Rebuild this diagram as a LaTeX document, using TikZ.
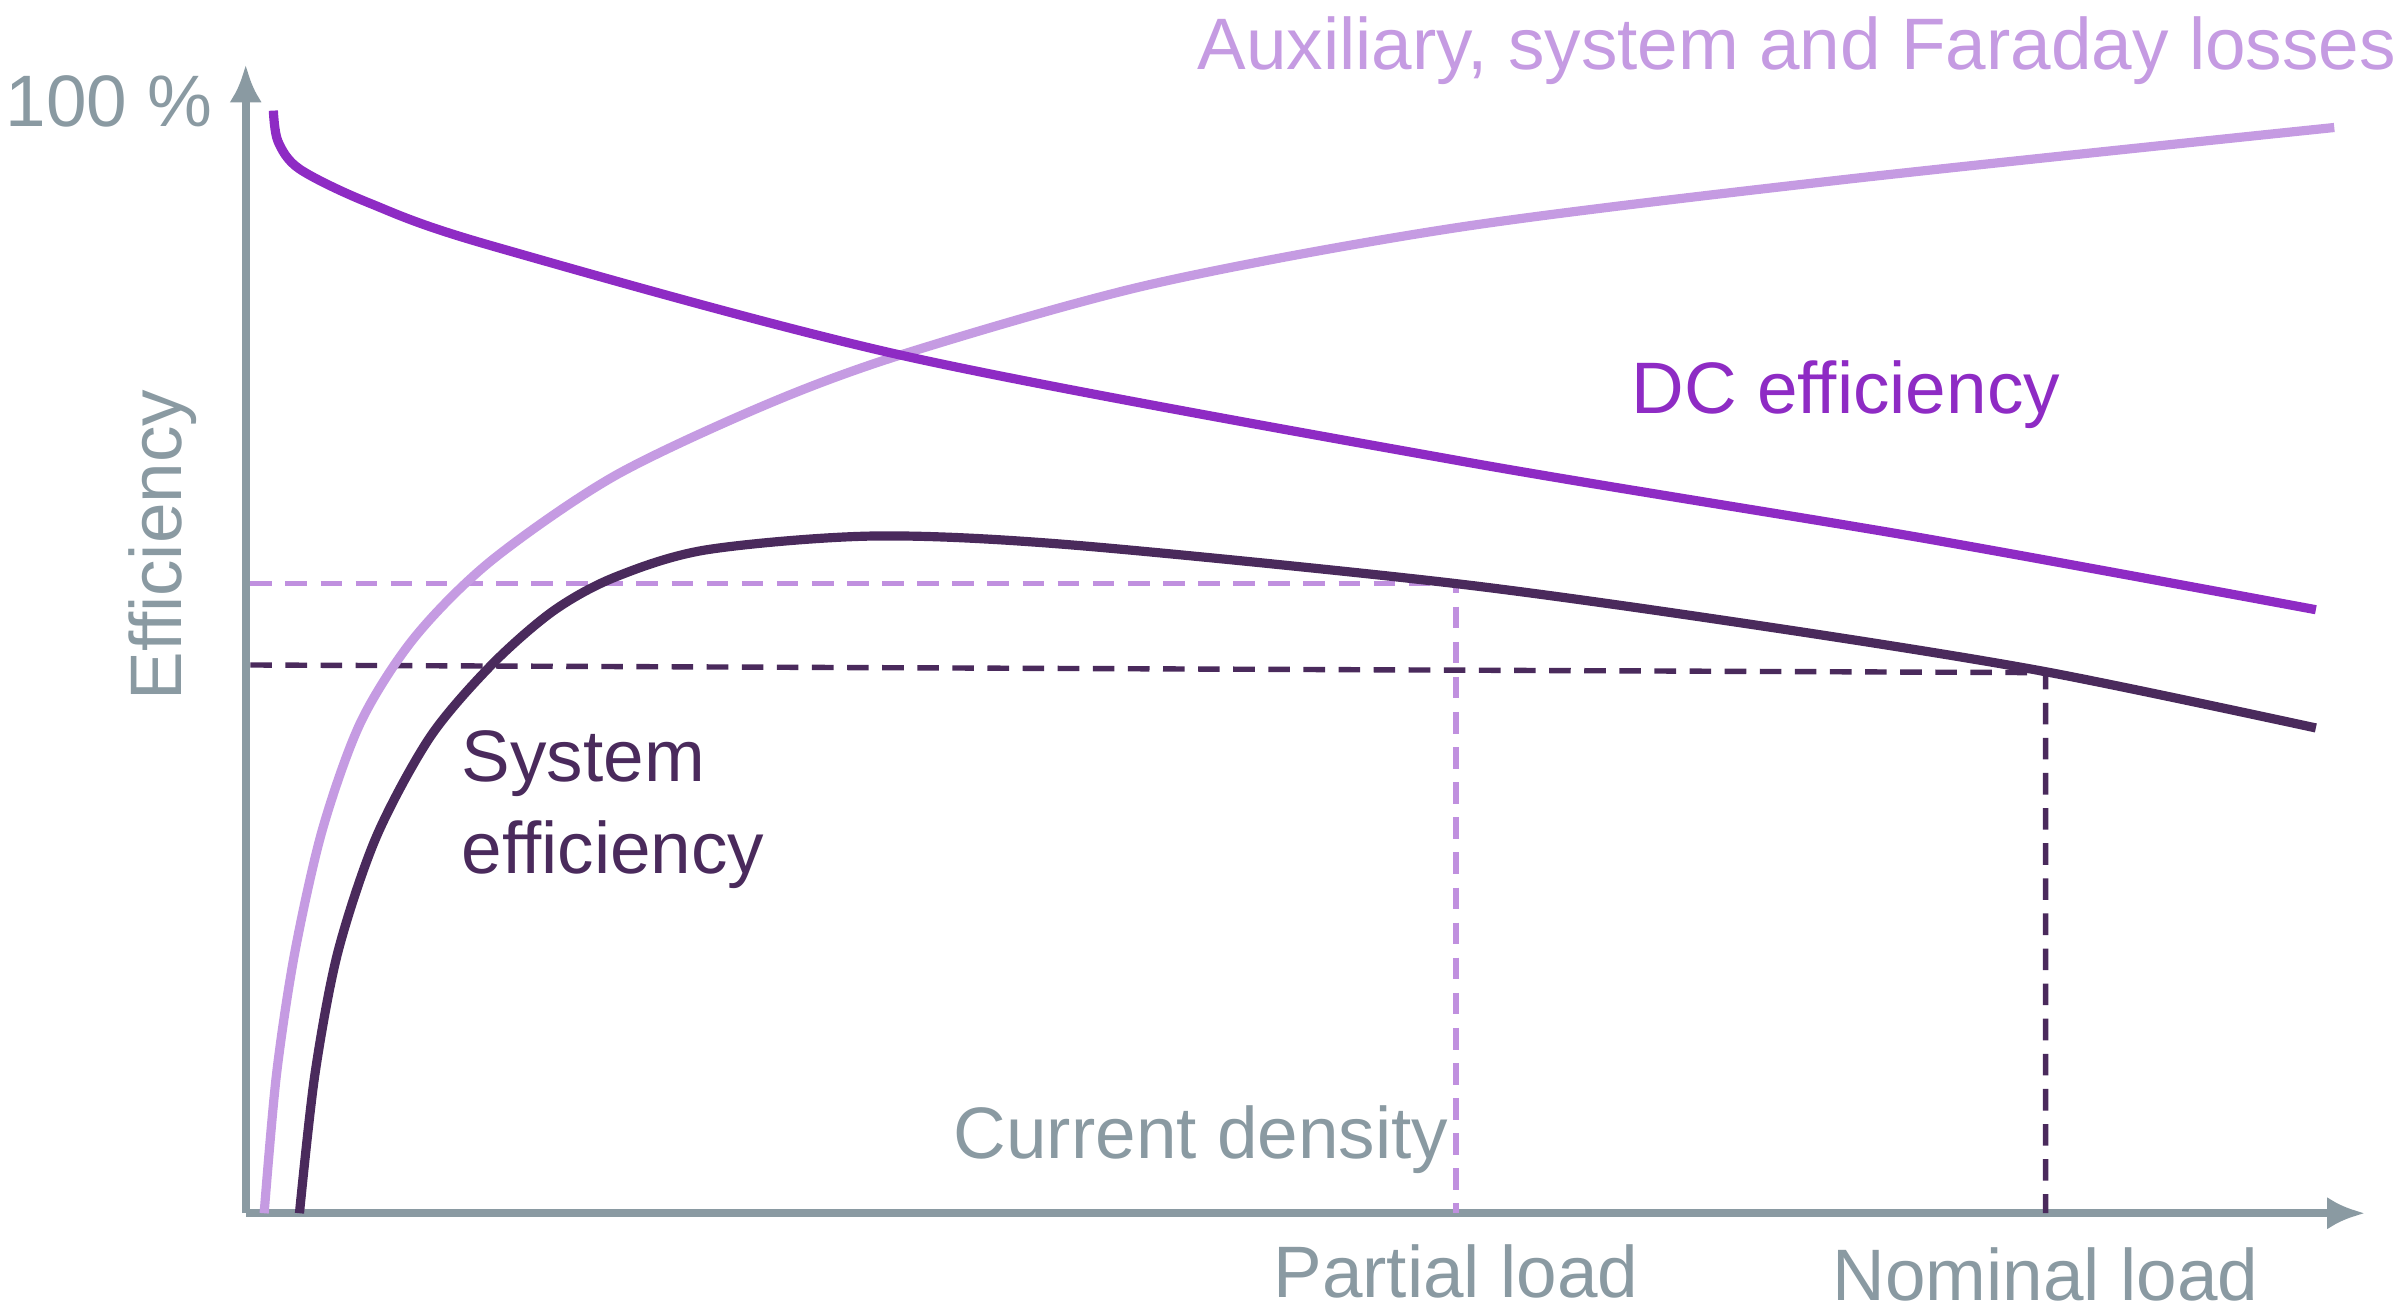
\documentclass[tikz,border=0pt]{standalone}
\usepackage{fontspec}
\setmainfont{Liberation Sans}
\usetikzlibrary{arrows.meta}
\definecolor{axg}{HTML}{8A9AA2}
\definecolor{dcp}{HTML}{8E2BC4}
\definecolor{auxp}{HTML}{C59BE2}
\definecolor{sysp}{HTML}{4A2A5C}
\begin{document}
\begin{tikzpicture}[x=0.01cm,y=-0.01cm,
  lab/.style={inner sep=0pt,font=\fontsize{13.5}{17}\selectfont},
  curve/.style={line width=1.7pt,smooth,tension=0.5}]
\useasboundingbox (0,0) rectangle (1568,856);
% axes
\coordinate (o) at (160,790);
\coordinate (ytop) at (160,42);
\coordinate (xend) at (1540,790);
\draw[axg,line width=1.5pt,-{Latex[length=7pt,width=6pt]}] (o) -- (ytop);
\draw[axg,line width=1.5pt,-{Latex[length=7pt,width=6pt]}] (o) -- (xend);
% dashed guides
\coordinate (pa) at (163,380); \coordinate (pb) at (948,380); \coordinate (pc) at (948,790);
\coordinate (na) at (163,433); \coordinate (nb) at (1332,438); \coordinate (nc) at (1332,790);
\draw[auxp!90!dcp,line width=1pt,dash pattern=on 4pt off 2.5pt] (pa) -- (pb) -- (pc);
\draw[sysp,line width=1pt,dash pattern=on 4pt off 2.5pt] (na) -- (nb) -- (nc);
% curves
\draw[auxp,curve] plot coordinates {(172,790) (180,700) (192,620) (210,540) (235,470) (270,415) (320,365) (400,310) (500,263) (590,230) (750,185) (950,148) (1200,117) (1520,83)};
\draw[dcp,curve] plot coordinates {(178,72) (181,92) (195,110) (240,132) (320,160) (590,232) (950,300) (1250,350) (1508,397)};
\draw[sysp,curve] plot coordinates {(195,790) (205,700) (220,620) (245,545) (280,480) (320,433) (360,398) (400,376) (460,358) (570,349) (700,355) (948,380) (1150,408) (1330,437) (1508,474)};
% labels
\node[lab,axg] (l100) at (71,66) {100 \%};
\node[lab,axg,rotate=90] (leff) at (106,355) {Efficiency};
\node[lab,auxp] (laux) at (1170,33) {Auxiliary, system and Faraday losses};
\node[lab,dcp] (ldc) at (1202,257) {DC efficiency};
\node[lab,sysp,align=left,anchor=west] (lsys) at (300,527) {System\\efficiency};
\node[lab,axg] (lcd) at (782,742) {Current density};
\node[lab,axg] (lpl) at (948,828) {Partial load};
\node[lab,axg] (lnl) at (1332,830) {Nominal load};
\end{tikzpicture}
\end{document}
